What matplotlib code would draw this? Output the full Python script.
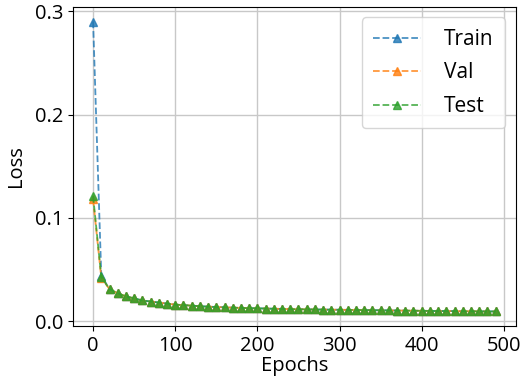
import matplotlib
matplotlib.use("Agg")
import matplotlib.pyplot as plt

epochs = list(range(0, 500, 10))

train_loss = [0.290, 0.044, 0.031, 0.027, 0.024, 0.022, 0.020, 0.019, 0.018, 0.017,
              0.016, 0.0155, 0.015, 0.0145, 0.014, 0.0137, 0.0134, 0.0131, 0.0128, 0.0126,
              0.0124, 0.0122, 0.0120, 0.0118, 0.0117, 0.0115, 0.0114, 0.0113, 0.0112, 0.0111,
              0.0110, 0.0109, 0.0108, 0.0107, 0.0106, 0.0105, 0.0104, 0.0103, 0.0102, 0.0101,
              0.0100, 0.0099, 0.0098, 0.0098, 0.0097, 0.0096, 0.0096, 0.0095, 0.0094, 0.0094]
val_loss = [0.118, 0.042, 0.031, 0.027, 0.024, 0.022, 0.020, 0.019, 0.018, 0.017,
            0.016, 0.0155, 0.015, 0.0145, 0.014, 0.0137, 0.0134, 0.0131, 0.0128, 0.0126,
            0.0124, 0.0122, 0.0120, 0.0118, 0.0117, 0.0115, 0.0114, 0.0113, 0.0112, 0.0111,
            0.0110, 0.0109, 0.0108, 0.0107, 0.0106, 0.0105, 0.0104, 0.0103, 0.0102, 0.0101,
            0.0100, 0.0099, 0.0098, 0.0098, 0.0097, 0.0096, 0.0096, 0.0095, 0.0094, 0.0094]
test_loss = [0.121, 0.043, 0.031, 0.027, 0.024, 0.022, 0.020, 0.019, 0.018, 0.017,
             0.016, 0.0155, 0.015, 0.0145, 0.014, 0.0137, 0.0134, 0.0131, 0.0128, 0.0126,
             0.0124, 0.0122, 0.0120, 0.0118, 0.0117, 0.0115, 0.0114, 0.0113, 0.0112, 0.0111,
             0.0110, 0.0109, 0.0108, 0.0107, 0.0106, 0.0105, 0.0104, 0.0103, 0.0102, 0.0101,
             0.0100, 0.0099, 0.0098, 0.0098, 0.0097, 0.0096, 0.0096, 0.0095, 0.0094, 0.0094]

plt.rcParams.update({"font.family": ["Open Sans", "DejaVu Sans"], "font.size": 14.5})

fig, ax = plt.subplots(figsize=(5.21, 3.79), dpi=100)
ax.plot(epochs, train_loss, "--^", color="#1f77b4", alpha=0.8, label="Train", markersize=6, lw=1.3)
ax.plot(epochs, val_loss, "--^", color="#ff7f0e", alpha=0.8, label="Val", markersize=6, lw=1.3)
ax.plot(epochs, test_loss, "--^", color="#2ca02c", alpha=0.8, label="Test", markersize=6, lw=1.3)
ax.grid(True, color="#c8c8c8", lw=1)
ax.set_axisbelow(True)
ax.set_xticks([0, 100, 200, 300, 400, 500])
ax.set_yticks([0.0, 0.1, 0.2, 0.3])
ax.set_xlabel("Epochs", labelpad=0)
ax.set_ylabel("Loss", labelpad=6)
ax.legend(loc="upper right", fontsize=15, handlelength=2.3, handletextpad=1.1,
          labelspacing=0.6, framealpha=0.8, borderpad=0.55)
fig.subplots_adjust(left=0.14, right=0.99, top=0.9815, bottom=0.14)
fig.savefig("out.png")
